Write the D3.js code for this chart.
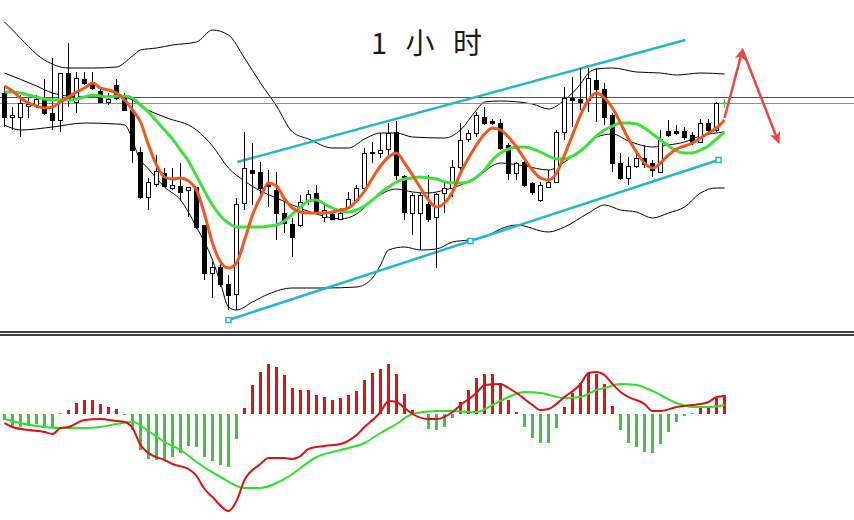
<!DOCTYPE html>
<html><head><meta charset="utf-8">
<script src="https://cdn.jsdelivr.net/npm/d3@7"></script>
<style>html,body{margin:0;padding:0;background:#fff;}svg{display:block;}</style>
</head><body>
<svg id="c" width="854" height="520"></svg>
<script>
// ---------- data (price units) ----------
const title = "1 小 时";
const open = [2237,2213,2213,2224,2225,2230,2217,2210,2257,2228, 2251,2248,2239,2228,2245,2233,2220,2178,2133,2146, 2157,2142,2144,2140,2143,2105,2057,2063,2046,2036, 2127,2160,2158,2146,2140,2117,2106,2105,2130,2137, 2113,2116,2111,2123,2130,2142,2178,2177,2181,2198, 2154,2117,2117,2126,2113,2137,2142,2163,2191,2197, 2213,2209,2207,2185,2157,2168,2147,2130,2143,2148, 2198,2232,2231,2230,2250,2241,2215,2167,2152,2164, 2172,2167,2158,2199,2199,2199,2195,2188,2207,2200, 2226];
const close = [2213,2215,2227,2226,2231,2217,2210,2257,2230,2252, 2247,2242,2228,2231,2232,2220,2180,2133,2148,2159, 2144,2145,2138,2143,2103,2057,2063,2046,2035,2126, 2162,2157,2142,2144,2117,2107,2093,2128,2136,2117, 2120,2111,2117,2131,2142,2177,2177,2180,2197,2155, 2118,2135,2135,2111,2136,2142,2163,2190,2197,2215, 2207,2207,2182,2157,2167,2145,2138,2145,2148,2198, 2232,2230,2228,2252,2241,2213,2167,2152,2164,2172, 2166,2160,2191,2195,2197,2193,2188,2207,2200,2227, 2227];
const high = [2244,2223,2235,2232,2235,2251,2272,2257,2287,2258, 2258,2258,2243,2237,2251,2237,2230,2183,2152,2175, 2162,2162,2167,2143,2143,2105,2068,2070,2055,2132, 2198,2187,2168,2160,2158,2130,2112,2135,2140,2145, 2128,2117,2122,2138,2145,2182,2188,2197,2207,2209, 2155,2137,2137,2155,2137,2147,2170,2207,2200,2218, 2223,2211,2211,2187,2168,2170,2148,2148,2160,2200, 2243,2253,2262,2262,2262,2247,2217,2177,2173,2178, 2185,2170,2200,2210,2205,2203,2198,2211,2211,2228, 2231];
const low = [2203,2200,2193,2212,2222,2215,2200,2198,2223,2217, 2245,2240,2228,2225,2230,2220,2167,2131,2120,2143, 2143,2140,2130,2113,2101,2050,2032,2043,2020,2020, 2120,2125,2135,2123,2090,2097,2073,2103,2125,2117, 2108,2110,2110,2122,2128,2140,2167,2172,2172,2150, 2110,2095,2080,2108,2062,2117,2133,2160,2188,2193, 2205,2205,2180,2150,2150,2143,2135,2128,2142,2147, 2190,2203,2220,2218,2208,2205,2158,2150,2145,2162, 2162,2153,2157,2193,2195,2190,2185,2187,2198,2198, 2222];
const fastMA = [2244,2239,2232,2227,2224,2222,2223,2228,2233,2238, 2242,2247,2242,2240,2237,2230,2220,2208,2185,2165, 2153,2151,2152,2149,2140,2116,2087,2068,2062,2067, 2090,2115,2133,2147,2144,2131,2122,2118,2117,2117, 2117,2118,2120,2122,2129,2139,2152,2164,2173,2177, 2167,2155,2142,2130,2123,2127,2138,2157,2172,2185, 2196,2202,2200,2193,2183,2171,2160,2152,2150,2157, 2175,2195,2215,2230,2237,2232,2222,2207,2191,2178, 2167,2162,2167,2175,2181,2184,2187,2192,2197,2202, 2210];
const slowMA = [2238,2238,2237,2235,2233,2231,2230,2230,2230,2231, 2233,2235,2234,2233,2234,2234,2232,2225,2218,2209, 2200,2191,2180,2169,2154,2139,2125,2114,2107,2103, 2103,2103,2103,2104,2105,2109,2116,2123,2129,2130, 2126,2122,2119,2118,2120,2124,2130,2137,2143,2148, 2151,2152,2153,2152,2151,2148,2147,2147,2148,2153, 2160,2170,2177,2181,2183,2183,2181,2178,2174,2171, 2171,2174,2179,2186,2194,2200,2204,2207,2207,2206, 2202,2196,2190,2184,2179,2177,2177,2180,2184,2191, 2198];
// Bollinger bands: [bar index, price]
const bbUpper = [[0,2308],[1,2300],[5,2270],[8,2262],[11,2262],[14,2263],[16,2274],[17,2280],[19,2282],[21,2285],[24,2288],[26,2300],[28,2295],[30,2272],[32,2247],[34,2224],[36,2198],[38,2191],[41,2182],[43,2182],[45,2191],[47,2197],[49,2197],[51,2193],[55,2192],[57,2200],[59,2220],[60,2228],[62,2229],[66,2226],[68,2221],[70,2230],[72,2246],[73,2257],[74,2261],[76,2262],[79,2258],[82,2257],[84,2255],[87,2257],[90,2256]];
const bbMiddle = [[0,2257],[4,2244],[6,2237],[8,2234],[11,2233],[14,2234],[16,2230],[17,2224],[20,2213],[24,2200],[26,2184],[28,2162],[30,2149],[32,2139],[34,2132],[36,2125],[39,2116],[42,2111],[44,2116],[46,2130],[49,2141],[51,2138],[53,2137],[55,2140],[57,2145],[59,2153],[62,2167],[65,2164],[68,2160],[70,2168],[72,2180],[74,2193],[76,2196],[78,2189],[81,2183],[83,2185],[85,2188],[87,2194],[90,2198]];
const bbLower = [[0,2205],[2,2200],[6,2203],[10,2207],[14,2206],[15,2205],[17,2170],[18,2161],[20,2143],[22,2130],[24,2103],[26,2070],[27,2047],[28,2023],[29,2020],[31,2028],[33,2036],[36,2042],[40,2042],[44,2043],[46,2052],[47,2065],[48,2080],[50,2083],[52,2080],[54,2081],[56,2088],[58,2090],[60,2093],[62,2101],[64,2105],[68,2098],[70,2103],[73,2117],[75,2125],[77,2120],[79,2118],[81,2112],[83,2117],[85,2123],[87,2137],[89,2142],[90,2142]];
// trend channel and levels
const channelTop = [[29.1,2168],[85.1,2290]];
const channelBottom = [[28,2010],[89.25,2170]];
const channelMarks = [[28,2010],[58.25,2089],[89.25,2170]];
const resistance = 2233, support = 2227;
const forecast = [[90,2212],[92.25,2280],[96.75,2188]];
// MACD panel
const macdHist = [-6,-13,-13,-12,-10,-12,-13,0.5,4,11, 14,14,10,7,5,-1,-16,-36,-45,-46, -46,-43,-39,-32,-33,-43,-47,-51,-53,-25, 6,29,42,50,47,39,26,24,24,19, 17,14,16,19,23,34,41,45,50,40, 20,4,0,-15,-16,-13,-4,12,24,36, 40,40,31,14,2,-13,-24,-29,-29,-14, 7,21,31,41,40,30,8,-16,-29,-33, -38,-39,-30,-18,-8,-2,0.5,7,7,16, 19];
const macdLine = [[0,-9],[1,-13],[3,-16],[5,-18],[6,-20],[7,-14],[8,-13],[10,-6],[12,-5],[14,-7],[15,-8],[16,-14],[17,-31],[18,-39],[20,-46],[21,-50],[23,-55],[24,-62],[25,-75],[26,-83],[28,-97],[29,-87],[30,-66],[32,-50],[33,-44],[35,-44],[36,-45],[37,-42],[38,-35],[40,-32],[42,-30],[44,-21],[45,-13],[47,2],[48,13],[49,12],[50,6],[51,0],[53,-5],[54,-5],[56,2],[57,9],[59,21],[60,29],[62,30],[63,26],[64,21],[66,9],[67,4],[68,5],[70,17],[72,30],[73,41],[74,42],[75,39],[76,30],[77,22],[78,17],[80,10],[81,3],[82,3],[84,7],[86,9],[87,10],[88,12],[89,17],[90,18]];
const macdSignal = [[0,-5],[2,-9],[4,-12],[7,-14],[10,-14],[12,-13],[14,-10],[16,-8],[18,-17],[20,-28],[22,-36],[24,-48],[27,-63],[30,-74],[32,-74],[34,-69],[36,-60],[37,-54],[39,-43],[41,-38],[43,-34],[45,-29],[47,-19],[49,-10],[51,0],[54,3],[56,3],[58,2],[59,2],[61,9],[63,17],[65,22],[67,21],[70,16],[72,17],[74,24],[75,26],[77,30],[79,29],[81,23],[82,19],[84,11],[86,7],[88,7],[90,9]];

// ---------- drawing ----------
const svg = d3.select("#c");
const W = 854;
const x = d3.scaleLinear().domain([0, 90]).range([4.5, 724.5]);
const y = d3.scaleLinear().domain([2000, 2330]).range([330, 0]);
const ym = d3.scaleLinear().domain([-100, 100]).range([514, 314]);
const bars = open.map((o, i) => ({i, o, c: close[i], h: high[i], l: low[i]}));

const defs = svg.append("defs");
defs.append("clipPath").attr("id", "pc")
  .append("rect").attr("x", 0).attr("y", 0).attr("width", W).attr("height", 331);
const main = svg.append("g").attr("clip-path", "url(#pc)");

// bollinger bands
const pairLine = sc => d3.line().x(d => x(d[0])).y(d => sc(d[1])).curve(d3.curveMonotoneX);
[bbUpper, bbMiddle, bbLower].forEach(b => {
  main.append("path").attr("d", pairLine(y)(b)).attr("fill", "none")
    .attr("stroke", "#000").attr("stroke-width", 1);
});

// horizontal levels
[[support, "#8a8f98"], [resistance, "#e01818"]].forEach(([p, col]) => {
  const yy = Math.round(y(p)) + 0.5;
  main.append("line").attr("x1", 0).attr("x2", W).attr("y1", yy).attr("y2", yy)
    .attr("stroke", col).attr("stroke-width", 1.2);
});

// channel
[channelTop, channelBottom].forEach(c => {
  main.append("path").attr("d", d3.line().x(d => x(d[0])).y(d => y(d[1]))(c))
    .attr("fill", "none").attr("stroke", "#22b8cc").attr("stroke-width", 2.5);
});

// candles
const last = bars.length - 1;
const cg = main.append("g");
bars.forEach(b => {
  const cx = x(b.i);
  const isLast = b.i === last;
  const col = isLast ? "#33cc33" : "#000";
  cg.append("line").attr("x1", cx).attr("x2", cx).attr("y1", y(b.h)).attr("y2", y(b.l))
    .attr("stroke", col).attr("stroke-width", 1);
  if (isLast) {
    cg.append("line").attr("x1", cx - 2).attr("x2", cx + 2).attr("y1", y(b.c)).attr("y2", y(b.c))
      .attr("stroke", col).attr("stroke-width", 1);
    return;
  }
  const top = Math.round(y(Math.max(b.o, b.c))) + 0.5;
  const bot = Math.round(y(Math.min(b.o, b.c))) + 0.5;
  cg.append("rect").attr("x", cx - 2).attr("width", 4)
    .attr("y", top).attr("height", Math.max(bot - top, 0.5))
    .attr("fill", b.c >= b.o ? "#fff" : "#000").attr("stroke", "#000").attr("stroke-width", 1);
});

// moving averages
const arrLine = d3.line().x((d, i) => x(i)).y(d => y(d)).curve(d3.curveMonotoneX);
main.append("path").attr("d", arrLine(slowMA)).attr("fill", "none")
  .attr("stroke", "#3ee03a").attr("stroke-width", 3);
main.append("path").attr("d", arrLine(fastMA)).attr("fill", "none")
  .attr("stroke", "#f2581c").attr("stroke-width", 3);

// channel markers
main.selectAll("rect.mk").data(channelMarks).enter().append("rect").attr("class", "mk")
  .attr("x", d => x(d[0]) - 2.5).attr("y", d => y(d[1]) - 2.5).attr("width", 5).attr("height", 5)
  .attr("fill", "#fff").attr("stroke", "#22b8cc").attr("stroke-width", 1.5);

// forecast arrows
defs.append("marker").attr("id", "ah").attr("viewBox", "0 0 10 10")
  .attr("refX", 8).attr("refY", 5).attr("markerWidth", 15).attr("markerHeight", 12)
  .attr("markerUnits", "userSpaceOnUse").attr("orient", "auto")
  .append("path").attr("d", "M0,0.5 L10,5 L0,9.5 L2.5,5 z").attr("fill", "#ef4444");
for (let k = 0; k < forecast.length - 1; k++) {
  svg.append("line")
    .attr("x1", x(forecast[k][0])).attr("y1", y(forecast[k][1]))
    .attr("x2", x(forecast[k + 1][0])).attr("y2", y(forecast[k + 1][1]))
    .attr("stroke", "#ef4444").attr("stroke-width", 2.5).attr("marker-end", "url(#ah)");
}

// title
svg.append("text").attr("x", 371).attr("y", 54).text(title)
  .attr("font-family", "'Noto Sans CJK SC', sans-serif").attr("font-size", 29)
  .attr("letter-spacing", "6px").attr("fill", "#1a1a1a");

// separator
[332, 335].forEach(v => svg.append("line").attr("x1", 0).attr("x2", W).attr("y1", v).attr("y2", v)
  .attr("stroke", "#000").attr("stroke-width", 1.4));

// MACD histogram
svg.append("g").selectAll("rect").data(macdHist).enter().append("rect")
  .attr("x", (d, i) => x(i) - 1.5).attr("width", 3)
  .attr("y", d => Math.min(ym(d), ym(0))).attr("height", d => Math.abs(ym(d) - ym(0)))
  .attr("fill", d => d >= 0 ? "#e01414" : "#46c046");

// MACD lines
svg.append("path").attr("d", pairLine(ym)(macdSignal)).attr("fill", "none")
  .attr("stroke", "#2ee02e").attr("stroke-width", 2);
svg.append("path").attr("d", pairLine(ym)(macdLine)).attr("fill", "none")
  .attr("stroke", "#e01010").attr("stroke-width", 2);
</script>
</body></html>
